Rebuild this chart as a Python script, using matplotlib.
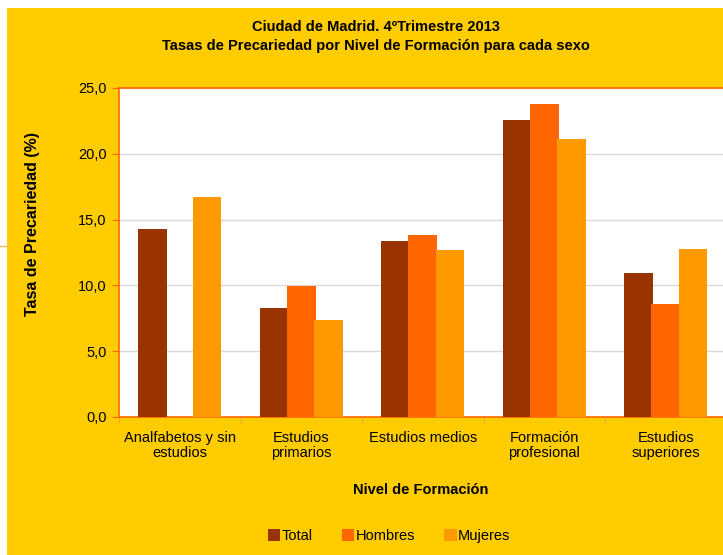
import numpy as np
import matplotlib.pyplot as plt
from matplotlib.patches import Rectangle, Patch

plt.rcParams['font.family'] = ['Liberation Sans', 'DejaVu Sans']

categorias = ['Analfabetos y sin\nestudios', 'Estudios\nprimarios', 'Estudios medios',
              'Formación\nprofesional', 'Estudios\nsuperiores']
total = [14.3, 8.3, 13.35, 22.6, 10.95]
hombres = [0.0, 9.95, 13.8, 23.8, 8.6]
mujeres = [16.7, 7.35, 12.7, 21.1, 12.8]
series = ['Total', 'Hombres', 'Mujeres']
colores = ['#993300', '#FF6600', '#FF9900']
yticks = [0, 5, 10, 15, 20, 25]

fig = plt.figure(figsize=(7.23, 5.55), dpi=100)
fig.patch.set_facecolor('white')
# yellow chart area (white margin on top and left)
fig.patches.append(Rectangle((7 / 723, 0), 1, 1 - 8 / 555, transform=fig.transFigure,
                             facecolor='#FFCC00', edgecolor='none', zorder=-10))
fig.add_artist(plt.Line2D([0, 7 / 723], [1 - 246 / 555] * 2, transform=fig.transFigure,
                          color='#F2B36B', lw=1))

ax = fig.add_axes([119 / 723, 1 - 417 / 555, 607.5 / 723, 329 / 555])
ax.set_facecolor('white')

x = np.arange(len(categorias))
w = 0.235
for i, (vals, col, name) in enumerate(zip([total, hombres, mujeres], colores, series)):
    ax.bar(x + (i - 1) * 0.225, vals, width=w, color=col, edgecolor='none', zorder=3, label=name)

ax.set_xlim(-0.5, len(categorias) - 0.5)
ax.set_ylim(0, 25)
ax.set_yticks(yticks)
ax.set_yticklabels([f'{v:.1f}'.replace('.', ',') for v in yticks], fontsize=10.5)
ax.yaxis.grid(True, color='#D9D9D9', lw=1, zorder=0)
ax.set_axisbelow(True)

ax.set_xticks(x)
ax.set_xticklabels(categorias, fontsize=10.5, linespacing=1.1)
ax.set_xticks(np.arange(-0.5, len(categorias)), minor=True)
ax.tick_params(axis='x', which='major', length=0, pad=10)
ax.tick_params(axis='x', which='minor', length=4, color='#FF9966')
ax.tick_params(axis='y', length=5, color='#FF6600', pad=4)

for s in ['left', 'bottom', 'top']:
    ax.spines[s].set_color('#FF6600')
    ax.spines[s].set_linewidth(1.2)
ax.spines['right'].set_visible(False)

fig.text(33 / 723, 1 - 224 / 555, 'Tasa de Precariedad (%)', rotation=90, ha='center', va='center',
         fontsize=11.5, fontweight='bold')
fig.text(421 / 723, 1 - 490 / 555, 'Nivel de Formación', ha='center', va='center',
         fontsize=10.5, fontweight='bold')

fig.text(376 / 723, 1 - 27 / 555, 'Ciudad de Madrid. 4ºTrimestre 2013', ha='center', va='center',
         fontsize=10.5, fontweight='bold')
fig.text(376 / 723, 1 - 46 / 555, 'Tasas de Precariedad por Nivel de Formación para cada sexo',
         ha='center', va='center', fontsize=10.5, fontweight='bold')

handles = [Patch(facecolor=c, edgecolor='none') for c in colores]
fig.legend(handles, series, loc='center', bbox_to_anchor=(389 / 723, 1 - 536 / 555), ncol=3,
           frameon=False, fontsize=10.5, handlelength=0.85, handleheight=0.85,
           handletextpad=0.1, columnspacing=2.0)

fig.savefig('out.png', dpi=100)
